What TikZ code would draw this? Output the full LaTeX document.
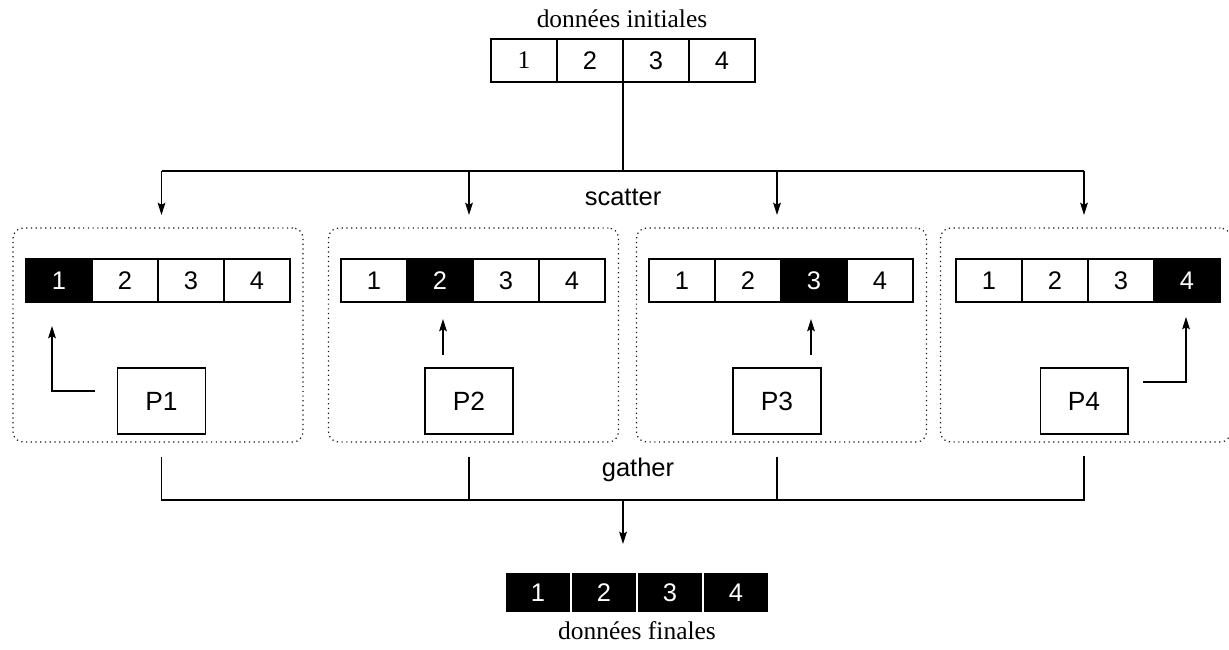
\documentclass[tikz,border=0pt]{standalone}
\usepackage{fontspec}
\setmainfont{Liberation Serif}
\setsansfont{Liberation Sans}
\usepackage{tikz}
\usetikzlibrary{arrows.meta, calc}
\definecolor{mydark}{RGB}{0,0,0}
\definecolor{mydot}{RGB}{20,20,20}
\tikzset{
  cell/.style={rectangle, draw=mydark, minimum width=1.32cm, minimum height=0.86cm,
    inner sep=0pt, outer sep=0pt, font=\sffamily\fontsize{14.5}{17}\selectfont, line width=0.6pt},
  selcell/.style={cell, fill=mydark, text=white},
  fincell/.style={cell, fill=mydark, text=white, draw=white, minimum height=0.82cm},
  proc/.style={rectangle, draw=mydark, minimum width=1.76cm, minimum height=1.32cm,
    inner sep=0pt, font=\sffamily\fontsize{15}{17}\selectfont, line width=0.6pt},
  group/.style={rectangle, draw=mydot, dotted, rounded corners=0.2cm,
    minimum width=5.8cm, minimum height=4.28cm, line width=0.7pt},
  title/.style={font=\rmfamily\fontsize{14.5}{17}\selectfont},
  phase/.style={font=\sffamily\fontsize{14.5}{17}\selectfont},
  arrow/.style={-{Stealth[length=7pt, width=4.4pt, inset=1.2pt]}, line width=0.6pt, color=mydark},
  line/.style={line width=0.6pt, color=mydark}
}

\begin{document}
\begin{tikzpicture}[x=0.02cm, y=-0.02cm]
  \useasboundingbox (0,0) rectangle (1229,649);

  % --- initial data ---
  \node[title] (tini) at (622,19) {données initiales};
  \node[cell, font=\rmfamily\fontsize{14.5}{17}\selectfont] (a1) at (524,60.5) {1};
  \node[cell] (a2) at (590,60.5) {2};
  \node[cell] (a3) at (656,60.5) {3};
  \node[cell] (a4) at (722,60.5) {4};

  % --- process groups ---
  \node[group] (g1) at (158,335) {};
  \node[group] (g2) at (473.5,335) {};
  \node[group] (g3) at (781.5,335) {};
  \node[group] (g4) at (1085.5,335) {};

  % group 1
  \node[selcell] (c11) at (59,280.5) {1};
  \node[cell] (c12) at (125,280.5) {2};
  \node[cell] (c13) at (191,280.5) {3};
  \node[cell] (c14) at (257,280.5) {4};
  \node[proc] (p1) at (161.5,401) {P1};

  % group 2
  \node[cell] (c21) at (374,280.5) {1};
  \node[selcell] (c22) at (440,280.5) {2};
  \node[cell] (c23) at (506,280.5) {3};
  \node[cell] (c24) at (572,280.5) {4};
  \node[proc] (p2) at (469,401) {P2};

  % group 3
  \node[cell] (c31) at (682,280.5) {1};
  \node[cell] (c32) at (748,280.5) {2};
  \node[selcell] (c33) at (814,280.5) {3};
  \node[cell] (c34) at (880,280.5) {4};
  \node[proc] (p3) at (777,401) {P3};

  % group 4
  \node[cell] (c41) at (989,280.5) {1};
  \node[cell] (c42) at (1055,280.5) {2};
  \node[cell] (c43) at (1121,280.5) {3};
  \node[selcell] (c44) at (1187,280.5) {4};
  \node[proc] (p4) at (1084,401) {P4};

  % each process writes its own slot
  \draw[arrow] ([shift={(-21.5,-10)}]p1.west) -| ([shift={(-7,24)}]c11.south);
  \draw[arrow] ([shift={(3,53)}]c22.south) -- ([shift={(3,17)}]c22.south);
  \draw[arrow] ([shift={(-3,53)}]c33.south) -- ([shift={(-3,17)}]c33.south);
  \draw[arrow] ([shift={(14,-19)}]p4.east) -| ([shift={(-1,15)}]c44.south);

  % --- scatter ---
  \coordinate (sct) at ($(a2.south east)+(0,89)$);
  \draw[line] (a2.south east) -- (sct);
  \draw[line] (p1 |- sct) -- (p4 |- sct);
  \draw[arrow] (p1 |- sct) -- ++(0,44);
  \draw[arrow] (p2 |- sct) -- ++(0,44);
  \draw[arrow] (p3 |- sct) -- ++(0,44);
  \draw[arrow] (p4 |- sct) -- ++(0,44);
  \node[phase] (tsc) at (623,197) {scatter};

  % --- gather ---
  \coordinate (gat) at (623,500);
  \draw[line] ($(p1.south)+(0,22)$) |- (p4 |- gat) -- ++(0,-44);
  \draw[line] ($(p2.south)+(0,22)$) -- (p2 |- gat);
  \draw[line] ($(p3.south)+(0,22)$) -- (p3 |- gat);
  \draw[arrow] (gat) -- ++(0,44);
  \node[phase] (tga) at (638,470) {gather};

  % --- final data ---
  \node[fincell] (f1) at (538,592.5) {1};
  \node[fincell] (f2) at (604,592.5) {2};
  \node[fincell] (f3) at (670,592.5) {3};
  \node[fincell] (f4) at (736,592.5) {4};
  \node[title] (tfin) at (637,631) {données finales};
\end{tikzpicture}
\end{document}
